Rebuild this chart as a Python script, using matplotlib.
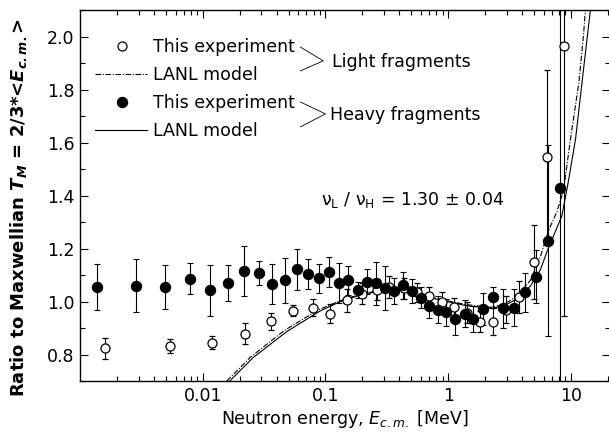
import numpy as np
import matplotlib
matplotlib.use('Agg')
import matplotlib.pyplot as plt
from matplotlib.ticker import MultipleLocator, LogLocator, NullFormatter, FixedLocator, FixedFormatter

plt.rcParams['font.family'] = ['DejaVu Sans']
plt.rcParams['mathtext.fontset'] = 'custom'
plt.rcParams['mathtext.rm'] = 'DejaVu Sans'
plt.rcParams['mathtext.it'] = 'DejaVu Sans:italic'
plt.rcParams['mathtext.bf'] = 'DejaVu Sans:bold:italic'

# light fragments (open circles)
e_light = [0.0016, 0.0054, 0.012, 0.022, 0.036, 0.054, 0.079, 0.109, 0.149, 0.198,
           0.265, 0.332, 0.44, 0.556, 0.70, 0.89, 1.12, 1.42, 1.82, 2.32,
           2.97, 3.8, 5.0, 6.4, 8.7]
r_light = [0.823, 0.832, 0.845, 0.879, 0.925, 0.966, 0.977, 0.954, 1.004, 1.030,
           1.044, 1.055, 1.050, 1.035, 1.020, 0.999, 0.978, 0.957, 0.924, 0.924,
           0.969, 1.016, 1.149, 1.544, 1.964]
err_light = [0.04, 0.025, 0.025, 0.04, 0.031, 0.021, 0.031, 0.035, 0.045, 0.04,
             0.04, 0.04, 0.04, 0.035, 0.035, 0.035, 0.035, 0.04, 0.04, 0.05,
             0.05, 0.06, 0.14, 0.33, 1.02]

# heavy fragments (filled circles)
e_heavy = [0.00138, 0.00288, 0.00496, 0.00783, 0.0115, 0.016, 0.0216, 0.0286, 0.0368, 0.0467,
           0.0589, 0.072, 0.088, 0.107, 0.128, 0.153, 0.183, 0.218, 0.258, 0.307,
           0.362, 0.432, 0.508, 0.598, 0.70, 0.818, 0.963, 1.13, 1.36, 1.60,
           1.92, 2.32, 2.81, 3.44, 4.22, 5.16, 6.47, 8.2]
r_heavy = [1.054, 1.059, 1.054, 1.086, 1.042, 1.069, 1.115, 1.106, 1.065, 1.080,
           1.121, 1.103, 1.088, 1.112, 1.070, 1.080, 1.044, 1.075, 1.068, 1.051,
           1.040, 1.061, 1.040, 1.014, 0.983, 0.969, 0.959, 0.935, 0.954, 0.934,
           0.971, 1.016, 0.974, 0.976, 1.034, 1.093, 1.230, 1.427]
err_heavy = [0.087, 0.10, 0.084, 0.058, 0.095, 0.067, 0.094, 0.045, 0.076, 0.084,
             0.076, 0.057, 0.055, 0.057, 0.077, 0.055, 0.03, 0.048, 0.08, 0.083,
             0.05, 0.05, 0.045, 0.04, 0.045, 0.05, 0.05, 0.06, 0.05, 0.05,
             0.06, 0.04, 0.075, 0.07, 0.075, 0.10, 0.36, 0.9]

# LANL model curves
e_model_light = [0.0157, 0.0245, 0.046, 0.087, 0.13, 0.19, 0.278, 0.406, 0.59, 0.86,
                 1.42, 2.2, 2.81, 3.64, 4.67, 5.64, 6.6, 7.7, 8.7, 9.91, 11.6, 12.7, 13.1]
r_model_light = [0.70, 0.79, 0.89, 0.968, 1.002, 1.027, 1.042, 1.045, 1.027, 1.008,
                 0.988, 0.978, 0.988, 1.02, 1.08, 1.17, 1.27, 1.34, 1.42, 1.613, 1.826, 2.014, 2.10]
e_model_heavy = [0.0166, 0.0257, 0.0482, 0.0902, 0.131, 0.191, 0.278, 0.406, 0.59, 0.86,
                 1.42, 2.2, 2.81, 3.64, 4.67, 5.64, 6.4, 7.4, 8.44, 9.5, 10.9, 12.3, 13.7, 14.4]
r_model_heavy = [0.70, 0.788, 0.886, 0.964, 0.999, 1.024, 1.040, 1.043, 1.025, 1.005,
                 0.984, 0.974, 0.982, 1.010, 1.058, 1.12, 1.19, 1.26, 1.324, 1.45, 1.613, 1.826, 2.014, 2.10]

fig = plt.figure(figsize=(6.09, 4.39), dpi=100)
ax = fig.add_axes([80 / 609, 57 / 439, 530 / 609, 371 / 439])

ax.plot(e_model_light, r_model_light, color='black', lw=0.8, dashes=(5, 1.5, 1, 1.5))
ax.plot(e_model_heavy, r_model_heavy, color='black', lw=0.8)

ax.errorbar(e_light, r_light, yerr=err_light, fmt='o', ms=6.5, mfc='white', mec='black',
            mew=0.9, ecolor='black', elinewidth=0.8, capsize=2.5, capthick=0.8)
ax.errorbar(e_heavy, r_heavy, yerr=err_heavy, fmt='o', ms=7.2, mfc='black', mec='black',
            ecolor='black', elinewidth=0.8, capsize=2.5, capthick=0.8)

ax.set_xscale('log')
ax.set_xlim(0.001, 20.8)
ax.set_ylim(0.7, 2.1)
ax.xaxis.set_major_locator(FixedLocator([0.01, 0.1, 1, 10]))
ax.xaxis.set_major_formatter(FixedFormatter(['0.01', '0.1', '1', '10']))
ax.xaxis.set_minor_locator(LogLocator(base=10, subs=np.arange(2, 10), numticks=20))
ax.xaxis.set_minor_formatter(NullFormatter())
ax.yaxis.set_major_locator(MultipleLocator(0.2))
ax.yaxis.set_minor_locator(MultipleLocator(0.1))
ax.yaxis.set_major_formatter(plt.FuncFormatter(lambda v, p: f'{v:.1f}'))
ax.tick_params(which='both', direction='in', top=True, right=True, labelsize=12.5, width=0.8)
ax.tick_params(which='major', length=6)
ax.tick_params(which='minor', length=3.5)
ax.tick_params(axis='x', which='major', pad=3.5)
ax.tick_params(axis='y', which='major', pad=4)
for s in ax.spines.values():
    s.set_linewidth(1.0)

ax.set_xlabel(r'Neutron energy, $E_{c.m.}$ [MeV]', fontsize=12.5, labelpad=2)
ax.set_ylabel(r'Ratio to Maxwellian $\mathbf{T_M}$ = 2/3*<$\mathbf{E_{c.m.}}$>',
              fontsize=13, fontweight='bold')
ax.yaxis.set_label_coords(-0.096, 0.47)

# legend drawn by hand
tr = ax.transAxes
ax.plot([0.079], [0.903], 'o', ms=6.5, mfc='white', mec='black', mew=0.9, transform=tr)
ax.plot([0.028, 0.127], [0.827, 0.827], color='black', lw=0.8, dashes=(5, 1.5, 1, 1.5), transform=tr)
ax.plot([0.079], [0.752], 'o', ms=7.2, mfc='black', mec='black', transform=tr)
ax.plot([0.028, 0.127], [0.677, 0.677], color='black', lw=0.8, transform=tr)
for y, txt in [(0.903, 'This experiment'), (0.827, 'LANL model'),
               (0.752, 'This experiment'), (0.677, 'LANL model')]:
    ax.text(0.138, y, txt, transform=tr, fontsize=12.5, va='center', ha='left')
ax.plot([0.416, 0.459, 0.416], [0.900, 0.863, 0.836], color='black', lw=0.6, transform=tr)
ax.plot([0.416, 0.463, 0.416], [0.752, 0.720, 0.685], color='black', lw=0.6, transform=tr)
ax.text(0.476, 0.863, 'Light fragments', transform=tr, fontsize=12.5, va='center')
ax.text(0.471, 0.720, 'Heavy fragments', transform=tr, fontsize=12.5, va='center')
ax.text(0.454, 0.49, r'$\mathrm{\nu}_\mathrm{L}$ / $\mathrm{\nu}_\mathrm{H}$ = 1.30 ± 0.04',
        transform=tr, fontsize=12.5, va='center')

fig.savefig('out.png', dpi=100)
